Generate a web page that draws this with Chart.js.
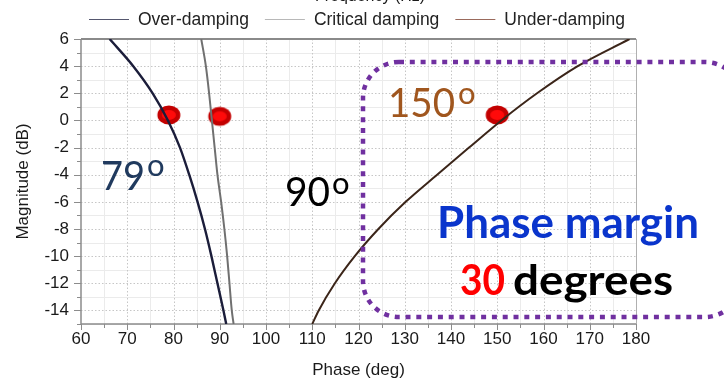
<!DOCTYPE html>
<html>
<head>
<meta charset="utf-8">
<script src="https://cdn.jsdelivr.net/npm/chart.js@4/dist/chart.umd.min.js"></script>
<style>
  html, body { margin: 0; padding: 0; background: #ffffff; }
  #wrap { width: 724px; height: 379px; position: relative; }
</style>
</head>
<body>
<div id="wrap"><canvas id="chart" width="724" height="379"></canvas></div>
<script>
// Magnitude levels (dB) at which each phase curve is sampled
const magnitudeDb = [6, 4, 2, 0, -2, -4, -6, -8, -10, -12, -14, -15];
// Phase (deg) of each curve at those magnitudes
const overDampingPhase     = [66.2, 71.3, 75.5, 78.8, 81.4, 83.4, 85.2, 86.8, 88.2, 89.5, 90.8, 91.4];
const criticalDampingPhase = [86.0, 87.0, 87.7, 88.3, 88.9, 89.5, 90.3, 91.0, 91.6, 92.1, 92.6, 93.0];
const underDampingPhase    = [178.6, 167.4, 158.6, 150.9, 143.9, 137.0, 130.2, 124.3, 119.2, 114.9, 111.4, 110.0];

// 0 dB crossover points and their phase values
const crossoverPhase = [79, 90, 150];
const crossoverMagDb = [0.4, 0.3, 0.4];
const phaseMarginDeg = 30;

// Axis ticks
const xTickValues = [60, 70, 80, 90, 100, 110, 120, 130, 140, 150, 160, 170, 180];
const yTickValues = [6, 4, 2, 0, -2, -4, -6, -8, -10, -12, -14];

const seriesNames  = ['Over-damping', 'Critical damping', 'Under-damping'];
const seriesColors = ['#1b1d3a', '#707070', '#3b2519'];
const legendColors = ['#55576f', '#b8b8b8', '#9a6a5c'];

const FONT = "'Liberation Sans', Arial, sans-serif";

function toPoints(phases, mags) {
  return phases.map((p, i) => ({ x: p, y: mags[i] }));
}

// Red elliptical marker used for the crossover points
function makeDot() {
  const c = document.createElement('canvas');
  c.width = 26; c.height = 22;
  const g = c.getContext('2d');
  g.fillStyle = '#c30000';
  g.beginPath(); g.ellipse(13, 11, 11.5, 9.5, 0, 0, Math.PI * 2); g.fill();
  g.fillStyle = '#ff0a0a';
  g.beginPath(); g.ellipse(13, 11, 7, 5, 0, 0, Math.PI * 2); g.fill();
  return c;
}

function fitText(ctx, str, left, baseline, width, font, color) {
  ctx.save();
  ctx.font = font;
  const w = ctx.measureText(str).width;
  ctx.translate(left, baseline);
  ctx.scale(width / w, 1);
  ctx.fillStyle = color;
  ctx.textAlign = 'left';
  ctx.textBaseline = 'alphabetic';
  ctx.fillText(str, 0, 0);
  ctx.restore();
}

function degreeText(ctx, value, left, baseline, width, supLeft, supBaseline, color) {
  fitText(ctx, String(value), left, baseline, width, "400 40px Lato, 'Open Sans', sans-serif", color);
  ctx.save();
  ctx.font = "400 31px Lato, 'Open Sans', sans-serif";
  ctx.fillStyle = color;
  ctx.textBaseline = 'alphabetic';
  ctx.fillText('o', supLeft, supBaseline);
  ctx.restore();
}

const frame = {
  id: 'frame',
  beforeDatasetsDraw(chart) {
    const { ctx, chartArea: a, scales: { x, y } } = chart;
    ctx.save();
    // minor grid
    ctx.strokeStyle = '#ebebeb';
    ctx.lineWidth = 1;
    for (let v = x.min + 5; v < x.max; v += 10) {
      const px = Math.round(x.getPixelForValue(v)) + 0.5;
      ctx.beginPath(); ctx.moveTo(px, a.top); ctx.lineTo(px, a.bottom); ctx.stroke();
    }
    for (let v = -15; v < y.max; v += 2) {
      const py = Math.round(y.getPixelForValue(v)) + 0.5;
      ctx.beginPath(); ctx.moveTo(a.left, py); ctx.lineTo(a.right, py); ctx.stroke();
    }
    // major grid (dotted)
    ctx.strokeStyle = '#c6c6c6';
    ctx.setLineDash([1.5, 2]);
    xTickValues.forEach(v => {
      if (v === x.min || v === x.max) return;
      const px = Math.round(x.getPixelForValue(v)) + 0.5;
      ctx.beginPath(); ctx.moveTo(px, a.top); ctx.lineTo(px, a.bottom); ctx.stroke();
    });
    yTickValues.forEach(v => {
      if (v === y.max) return;
      const py = Math.round(y.getPixelForValue(v)) + 0.5;
      ctx.beginPath(); ctx.moveTo(a.left, py); ctx.lineTo(a.right, py); ctx.stroke();
    });
    ctx.setLineDash([]);
    // frame
    ctx.strokeStyle = '#8a8a8a';
    ctx.lineWidth = 2;
    ctx.beginPath(); ctx.moveTo(a.left, a.top); ctx.lineTo(a.right, a.top); ctx.stroke();
    ctx.strokeStyle = '#b0b0b0';
    ctx.lineWidth = 1;
    ctx.beginPath(); ctx.moveTo(a.right + 0.5, a.top); ctx.lineTo(a.right + 0.5, a.bottom); ctx.stroke();
    ctx.strokeStyle = '#8c8c8c';
    ctx.lineWidth = 1.5;
    ctx.beginPath(); ctx.moveTo(a.left, a.top); ctx.lineTo(a.left, a.bottom); ctx.lineTo(a.right, a.bottom); ctx.stroke();
    // tick marks
    ctx.lineWidth = 1;
    for (let v = -15; v <= y.max; v += 1) {
      const py = Math.round(y.getPixelForValue(v)) + 0.5;
      const len = (v % 2 === 0) ? 7 : 4;
      ctx.beginPath(); ctx.moveTo(a.left - len, py); ctx.lineTo(a.left, py); ctx.stroke();
    }
    for (let v = x.min; v <= x.max; v += 5) {
      const px = Math.round(x.getPixelForValue(v)) + 0.5;
      const len = (v % 10 === 0) ? 6 : 4;
      ctx.beginPath(); ctx.moveTo(px, a.bottom); ctx.lineTo(px, a.bottom + len); ctx.stroke();
    }
    ctx.restore();
  },
  afterDraw(chart) {
    const { ctx, chartArea: a } = chart;
    ctx.save();
    // axis titles
    ctx.fillStyle = '#1a1a1a';
    ctx.font = '17px ' + FONT;
    ctx.textAlign = 'center';
    ctx.textBaseline = 'middle';
    ctx.fillText('Phase (deg)', (a.left + a.right) / 2, 370);
    ctx.save();
    ctx.translate(23, (a.top + a.bottom) / 2);
    ctx.rotate(-Math.PI / 2);
    ctx.fillText('Magnitude (dB)', 0, 0);
    ctx.restore();
    // clipped heading above the legend
    ctx.font = '16px ' + FONT;
    ctx.textBaseline = 'alphabetic';
    ctx.fillText('Frequency (Hz)', 370, 0.5);

    // legend
    ctx.font = '17.5px ' + FONT;
    ctx.textAlign = 'left';
    let lx = 89;
    chart.data.datasets.slice(0, 3).forEach((ds, i) => {
      ctx.strokeStyle = legendColors[i];
      ctx.lineWidth = 1.2;
      ctx.beginPath(); ctx.moveTo(lx, 19.5); ctx.lineTo(lx + 40, 19.5); ctx.stroke();
      lx += 49;
      ctx.fillStyle = '#222222';
      ctx.fillText(ds.label, lx, 25);
      lx += ctx.measureText(ds.label).width + 16;
    });

    // phase annotations
    degreeText(ctx, crossoverPhase[0], 101, 190, 44, 147, 176, '#203a5e');
    degreeText(ctx, crossoverPhase[1], 285, 205.5, 45, 332, 194, '#000000');
    degreeText(ctx, crossoverPhase[2], 388, 117, 67, 458, 103.5, '#a0561e');

    // highlighted phase-margin box
    const bx = 363, by = 62, bw = 378, bh = 255, r = 36;
    ctx.strokeStyle = '#7030a0';
    ctx.lineWidth = 4.5;
    ctx.setLineDash([5, 5.8]);
    ctx.beginPath();
    ctx.moveTo(bx + r, by);
    ctx.lineTo(bx + bw - r, by);
    ctx.arcTo(bx + bw, by, bx + bw, by + r, r);
    ctx.lineTo(bx + bw, by + bh - r);
    ctx.arcTo(bx + bw, by + bh, bx + bw - r, by + bh, r);
    ctx.lineTo(bx + r, by + bh);
    ctx.arcTo(bx, by + bh, bx, by + bh - r, r);
    ctx.lineTo(bx, by + r);
    ctx.arcTo(bx, by, bx + r, by, r);
    ctx.closePath();
    ctx.stroke();
    ctx.setLineDash([]);

    fitText(ctx, 'Phase margin', 437, 238, 262, "700 43px Lato, 'Open Sans', sans-serif", '#0a35cc');
    fitText(ctx, String(phaseMarginDeg), 460, 295, 45, "700 42px Lato, 'Open Sans', sans-serif", '#ff0000');
    fitText(ctx, 'degrees', 513, 295, 160, "700 42px Lato, 'Open Sans', sans-serif", '#000000');
    ctx.restore();
  }
};

const dot = makeDot();

new Chart(document.getElementById('chart'), {
  type: 'scatter',
  data: {
    datasets: [
      { label: seriesNames[0], data: toPoints(overDampingPhase, magnitudeDb), showLine: true,
        borderColor: seriesColors[0], borderWidth: 2.4, pointRadius: 0, cubicInterpolationMode: 'monotone' },
      { label: seriesNames[1], data: toPoints(criticalDampingPhase, magnitudeDb), showLine: true,
        borderColor: seriesColors[1], borderWidth: 2, pointRadius: 0, cubicInterpolationMode: 'monotone' },
      { label: seriesNames[2], data: toPoints(underDampingPhase, magnitudeDb), showLine: true,
        borderColor: seriesColors[2], borderWidth: 2, pointRadius: 0, cubicInterpolationMode: 'monotone' },
      { label: 'Crossover', data: toPoints(crossoverPhase, crossoverMagDb), showLine: false,
        pointStyle: dot, pointRadius: 10, clip: false }
    ]
  },
  options: {
    responsive: false,
    animation: false,
    devicePixelRatio: 1,
    layout: { padding: { top: 39, right: 88, left: 0, bottom: 0 } },
    plugins: { legend: { display: false }, tooltip: { enabled: false }, title: { display: false } },
    scales: {
      x: {
        type: 'linear', min: 60, max: 180,
        afterBuildTicks: s => { s.ticks = xTickValues.map(v => ({ value: v })); },
        afterFit: s => { s.height = 55; },
        grid: { display: false, drawTicks: false }, border: { display: false },
        ticks: { font: { family: FONT, size: 17 }, color: '#1a1a1a', padding: 5, maxRotation: 0, autoSkip: false }
      },
      y: {
        type: 'linear', min: -15, max: 6,
        afterBuildTicks: s => { s.ticks = yTickValues.map(v => ({ value: v })); },
        afterFit: s => { s.width = 81; },
        grid: { display: false, drawTicks: false }, border: { display: false },
        ticks: { font: { family: FONT, size: 17 }, color: '#1a1a1a', padding: 12, autoSkip: false }
      }
    }
  },
  plugins: [frame]
});
</script>
</body>
</html>
